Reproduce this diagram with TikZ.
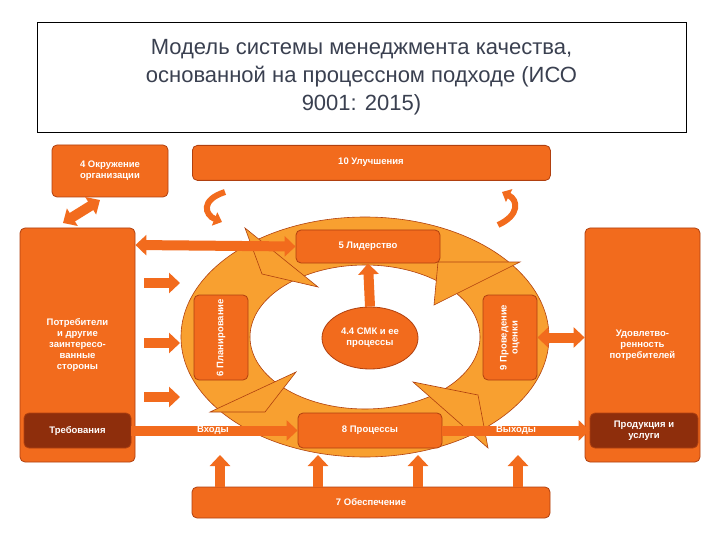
\documentclass[tikz,border=0pt]{standalone}
\usepackage{fontspec}
\setmainfont{Liberation Sans}
\usetikzlibrary{arrows.meta,shapes.geometric}
\definecolor{org}{HTML}{F26B1D}
\definecolor{ring}{HTML}{F8A030}
\definecolor{edge}{HTML}{B0400F}
\definecolor{dk}{HTML}{8E2E0C}
\definecolor{tcol}{HTML}{3A4050}
\begin{document}
\begin{tikzpicture}[x=1pt,y=-1pt,
  box/.style={draw=edge,fill=org,rounded corners=5pt,line width=0.8pt,text=white,font=\bfseries\fontsize{9.5}{11}\selectfont,align=center,inner sep=0pt},
  dbox/.style={box,fill=dk},
  barrow/.style={draw=org,line width=10pt,-{Triangle[width=20pt,length=11pt]}},
  dbarrow/.style={draw=org,line width=10pt,{Triangle[width=20pt,length=11pt]}-{Triangle[width=20pt,length=11pt]}},
  lbl/.style={text=white,font=\bfseries\fontsize{9.5}{11}\selectfont}]
\useasboundingbox (0,0) rectangle (720,540);
\fill[white] (0,0) rectangle (720,540);
% title
\node[draw=black,line width=0.6pt,minimum width=649pt,minimum height=110pt,inner sep=0pt] (title) at (361.5,77) {};
\node[text=tcol,font=\fontsize{22}{28}\selectfont,align=center] (tt) at (361.5,77) {Модель системы менеджмента качества,\\основанной на процессном подходе (ИСО\\9001: 2015)};
% ring
\fill[ring,even odd rule,draw=edge,line width=0.6pt] (365,337) ellipse [x radius=184,y radius=120] (365,337) ellipse [x radius=115,y radius=72];
% ring arrowheads
\fill[ring,draw=edge,line width=0.6pt] (245,228) -- (318,287) -- (262,274) -- cycle;
\fill[ring,draw=edge,line width=0.6pt] (438,262) -- (520,262) -- (434,305) -- cycle;
\fill[ring,draw=edge,line width=0.6pt] (413,382) -- (478,395) -- (488,448) -- cycle;
\fill[ring,draw=edge,line width=0.6pt] (296,372) -- (265,412) -- (210,412) -- cycle;
% boxes
\node[box,minimum width=116pt,minimum height=52pt] (env) at (110,171) {4 Окружение\\организации};
\node[box,minimum width=358pt,minimum height=35pt,anchor=north west] (imp) at (192,145) {};
\node[lbl] (impt) at (371,162) {10 Улучшения};
\node[box,minimum width=115pt,minimum height=234pt] (cust) at (77.5,345) {Потребители\\и другие\\заинтересо-\\ванные\\стороны};
\node[box,minimum width=115pt,minimum height=234pt] (sat) at (642.5,345) {Удовлетво-\\ренность\\потребителей};
\node[dbox,minimum width=107pt,minimum height=35pt] (req) at (77.5,430.5) {Требования};
\node[dbox,minimum width=108pt,minimum height=35pt] (prod) at (644,430.5) {Продукция и\\услуги};
\node[box,minimum width=358pt,minimum height=31pt] (sup) at (371,502.5) {7 Обеспечение};
\node[box,minimum width=144pt,minimum height=33pt] (lead) at (368,246.5) {5 Лидерство};
\node[box,minimum width=144pt,minimum height=35pt] (proc) at (370,430.5) {8 Процессы};
\node[box,minimum width=54pt,minimum height=85pt] (plan) at (221,337.5) {\rotatebox{90}{6 Планирование}};
\node[box,minimum width=54pt,minimum height=85pt] (eval) at (510,337.5) {\rotatebox{90}{\begin{tabular}{c}9 Проведение\\оценки\end{tabular}}};
\node[box,ellipse,minimum width=96pt,minimum height=62pt] (qms) at (370,338) {4.4 СМК и ее\\процессы};
% block arrows
\coordinate (e1) at (63,223); \coordinate (e2) at (100,200);
\draw[dbarrow] (e1) -- (e2);
\draw[dbarrow] (cust.east |- 0,245) -- (lead.west);
\foreach \y in {283,343,397} \draw[barrow] (144,\y) -- (180,\y);
\draw[barrow] (qms.north) -- (lead.south);
\draw[dbarrow] (eval.east) -- (sat.west |- eval.east);
\draw[barrow] (req.east) -- (proc.west);
\draw[barrow] (proc.east) -- (prod.west);
\node[lbl] (inl) at (213,430) {Входы};
\node[lbl] (outl) at (516,430) {Выходы};
\foreach \x in {220,318,418,518} \draw[barrow] (\x,487) -- (\x,455);
% curved arrows
\draw[org,line width=6pt,-{Triangle[width=14pt,length=8pt]}] (225,192) .. controls (200,200) and (205,215) .. (222,222);
\draw[org,line width=6pt,-{Triangle[width=14pt,length=8pt]}] (498,225) .. controls (520,215) and (518,200) .. (502,192);
\end{tikzpicture}
\end{document}
